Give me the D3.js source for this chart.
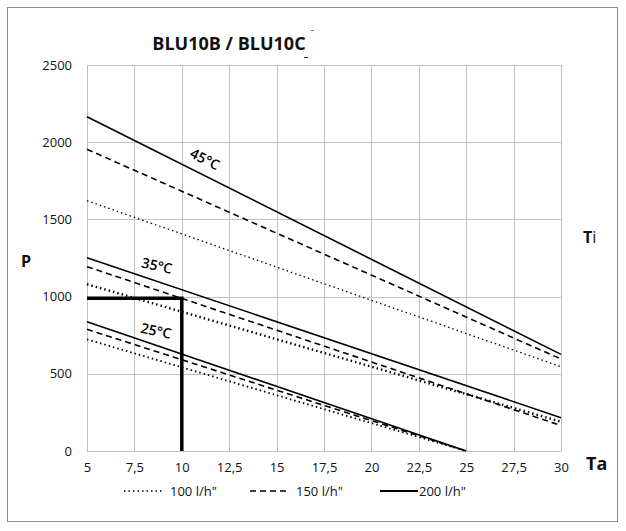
<!DOCTYPE html>
<html>
<head>
<meta charset="utf-8">
<script src="https://cdn.jsdelivr.net/npm/d3@7"></script>
<style>
  body { margin: 0; background: #fff; }
  svg text { font-family: "Open Sans", "Noto Sans", sans-serif; fill: #111; }
</style>
</head>
<body>
<div id="chart"></div>
<script>
document.addEventListener("DOMContentLoaded", function () {
  const width = 626,
    height = 531;

  // x ticks (Ta) and y ticks (P)
  const taTicks = [5, 7.5, 10, 12.5, 15, 17.5, 20, 22.5, 25, 27.5, 30];
  const pTicks = [0, 500, 1000, 1500, 2000, 2500];

  // flows in legend
  const flows = ["100 l/h\"", "150 l/h\"", "200 l/h\""];

  // curves: Ti 45/35/25 for each flow (start and end point)
  const taEnds45 = [5, 30];
  const taEnds35 = [5, 30];
  const taEnds25 = [5, 25];
  const p100_45 = [1621, 546];
  const p150_45 = [1954, 596];
  const p200_45 = [2165, 626];
  const p100_35 = [1080, 190];
  const p150_35 = [1194, 165];
  const p200_35 = [1252, 216];
  const p100_25 = [723, 0];
  const p150_25 = [788, 0];
  const p200_25 = [837, 0];

  // bold reading example at Ta = 10
  const exampleTa = [5, 10, 10];
  const exampleP = [990, 990, 0];

  const x = d3.scaleLinear().domain([5, 30]).range([87, 561]);
  const y = d3.scaleLinear().domain([0, 2500]).range([451, 65]);

  const svg = d3
    .select("#chart")
    .append("svg")
    .attr("width", width)
    .attr("height", height);

  // outer frame
  svg
    .append("rect")
    .attr("x", 7.5)
    .attr("y", 7.5)
    .attr("width", 610)
    .attr("height", 514)
    .attr("fill", "none")
    .attr("stroke", "#8c8c8c")
    .attr("stroke-width", 1);

  // grid
  const grid = svg.append("g").attr("stroke", "#c0c0c0").attr("stroke-width", 1);
  taTicks.forEach((t) => {
    grid
      .append("line")
      .attr("x1", Math.round(x(t)) + 0.5)
      .attr("x2", Math.round(x(t)) + 0.5)
      .attr("y1", y(2500))
      .attr("y2", y(0));
  });
  pTicks.forEach((t) => {
    grid
      .append("line")
      .attr("x1", x(5))
      .attr("x2", x(30))
      .attr("y1", Math.round(y(t)) + 0.5)
      .attr("y2", Math.round(y(t)) + 0.5);
  });

  // axes (labels only)
  const xAxis = svg
    .append("g")
    .attr("transform", `translate(0,${y(0)})`)
    .call(d3.axisBottom(x).tickValues(taTicks).tickSize(0).tickPadding(12)
      .tickFormat((d) => String(d).replace(".", ",")));
  xAxis.select(".domain").remove();
  xAxis.selectAll("text").attr("font-size", 13).attr("font-family", "Open Sans, sans-serif").attr("fill", "#111");

  const yAxis = svg
    .append("g")
    .attr("transform", `translate(${x(5)},0)`)
    .call(d3.axisLeft(y).tickValues(pTicks).tickSize(0).tickPadding(15).tickFormat(d3.format("d")));
  yAxis.select(".domain").remove();
  yAxis.selectAll("text").attr("font-size", 13).attr("font-family", "Open Sans, sans-serif").attr("fill", "#111");

  // line styles per flow
  const styles = [
    { dash: "1.5,3", w: 1.6 },
    { dash: "6,4", w: 1.6 },
    { dash: null, w: 1.6 },
  ];

  const series = [
    { ta: taEnds45, p: p100_45, s: 0, w: 1.3 },
    { ta: taEnds45, p: p150_45, s: 1 },
    { ta: taEnds45, p: p200_45, s: 2 },
    { ta: taEnds35, p: p100_35, s: 0, w: 2.4 },
    { ta: taEnds35, p: p150_35, s: 1 },
    { ta: taEnds35, p: p200_35, s: 2 },
    { ta: taEnds25, p: p100_25, s: 0, w: 1.8 },
    { ta: taEnds25, p: p150_25, s: 1 },
    { ta: taEnds25, p: p200_25, s: 2 },
  ];

  const line = d3
    .line()
    .x((d) => x(d[0]))
    .y((d) => y(d[1]));

  series.forEach((sr) => {
    const st = styles[sr.s];
    svg
      .append("path")
      .attr("d", line(d3.zip(sr.ta, sr.p)))
      .attr("fill", "none")
      .attr("stroke", "#000")
      .attr("stroke-width", sr.w || st.w)
      .attr("stroke-dasharray", st.dash);
  });

  // bold example line
  svg
    .append("path")
    .attr("d", line(d3.zip(exampleTa, exampleP)))
    .attr("fill", "none")
    .attr("stroke", "#000")
    .attr("stroke-width", 3.5);

  // Ti labels above the curves
  const tiLabels = [
    { t: "45°C", ta: 11.22, p: 1890, rot: 27 },
    { t: "35°C", ta: 8.69, p: 1200, rot: 12 },
    { t: "25°C", ta: 8.64, p: 778, rot: 12 },
  ];
  tiLabels.forEach((l) => {
    svg
      .append("text")
      .attr("transform", `translate(${x(l.ta)},${y(l.p)}) rotate(${l.rot})`)
      .attr("text-anchor", "middle")
      .attr("dy", "0.35em")
      .attr("font-size", 14)
      .attr("font-weight", 600)
      .style("fill", "#000")
      .text(l.t);
  });

  // title
  svg
    .append("text")
    .attr("x", 229)
    .attr("y", 50)
    .attr("text-anchor", "middle")
    .attr("font-family", "Roboto, sans-serif")
    .attr("font-weight", "bold")
    .attr("font-size", 18)
    .text("BLU10B / BLU10C");
  svg.append("line").attr("x1", 311).attr("x2", 314).attr("y1", 30.5).attr("y2", 30.5).attr("stroke", "#777");
  svg.append("line").attr("x1", 304).attr("x2", 308).attr("y1", 57.5).attr("y2", 57.5).attr("stroke", "#222");

  // axis names
  svg
    .append("text")
    .attr("x", 21)
    .attr("y", 267)
    .attr("font-weight", "bold")
    .attr("font-size", 16)
    .text("P");
  const ti = svg.append("text").attr("x", 583).attr("y", 243).attr("font-size", 16);
  ti.append("tspan").attr("font-weight", "bold").text("T");
  ti.append("tspan").text("i");
  svg
    .append("text")
    .attr("x", 586)
    .attr("y", 470)
    .attr("font-weight", "bold")
    .attr("font-size", 18)
    .text("Ta");

  // legend
  const legX = [124, 250, 380];
  const legendY = 491;
  flows.forEach((f, i) => {
    const st = styles[i];
    svg
      .append("line")
      .attr("x1", legX[i])
      .attr("x2", legX[i] + 38)
      .attr("y1", legendY)
      .attr("y2", legendY)
      .attr("stroke", "#000")
      .attr("stroke-width", i === 2 ? 2 : 1.6)
      .attr("stroke-dasharray", st.dash);
    svg
      .append("text")
      .attr("x", legX[i] + (i === 2 ? 39 : 46))
      .attr("y", legendY + 5)
      .attr("font-size", 13)
      .text(f);
  });
});
</script>
</body>
</html>
